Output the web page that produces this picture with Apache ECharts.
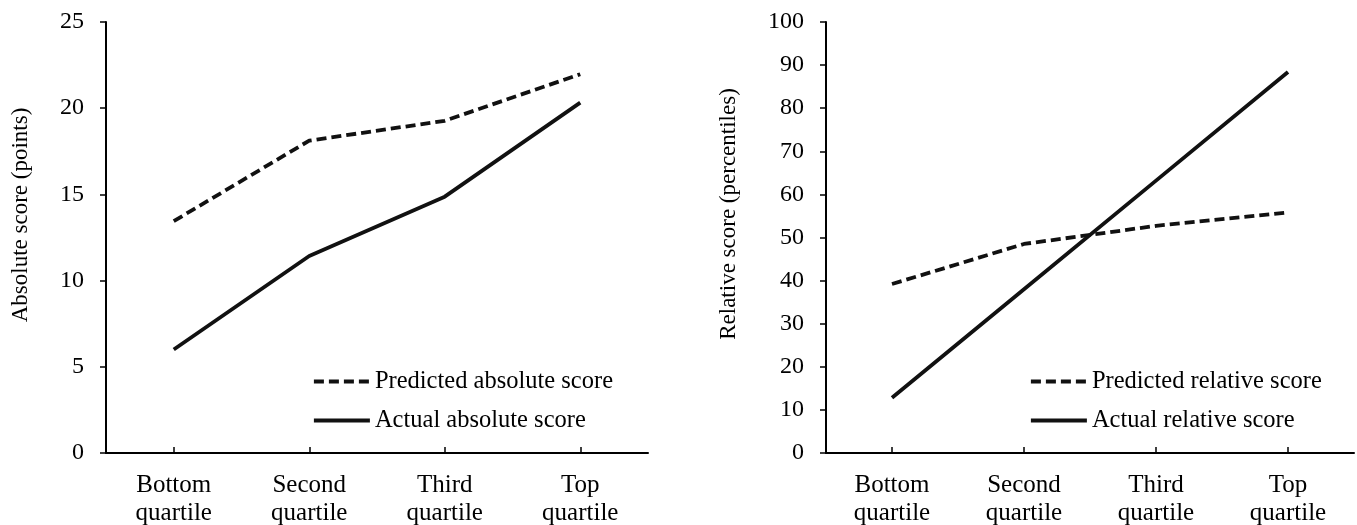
<!DOCTYPE html>
<html>
<head>
<meta charset="utf-8">
<script src="https://cdn.jsdelivr.net/npm/echarts@6/dist/echarts.min.js"></script>
<style>html,body{margin:0;padding:0;background:#fff}#c{width:1357px;height:525px}</style>
</head>
<body>
<div id="c"></div>
<script>
var categories = ['Bottom\nquartile', 'Second\nquartile', 'Third\nquartile', 'Top\nquartile'];
var predictedAbsolute = [13.45, 18.12, 19.27, 21.97];
var actualAbsolute = [6.0, 11.43, 14.87, 20.32];
var predictedRelative = [39.2, 48.5, 52.7, 55.8];
var actualRelative = [12.8, 38.0, 63.2, 88.4];
var leftTicks = {min: 0, max: 25, interval: 5};
var rightTicks = {min: 0, max: 100, interval: 10};

var FONT = 'Liberation Serif';
var INK = '#111';
var chart = echarts.init(document.getElementById('c'), null, {renderer: 'canvas'});

function xAxis(gi) {
  return {
    type: 'category', gridIndex: gi, data: categories, boundaryGap: true,
    axisLine: {lineStyle: {color: '#000', width: 2}},
    axisTick: {show: true, inside: true, length: 6, alignWithLabel: true, lineStyle: {color: '#000', width: 1.5}},
    axisLabel: {fontFamily: FONT, fontSize: 25, color: '#000', lineHeight: 28, margin: 18, interval: 0}
  };
}
function yAxis(gi, t) {
  return {
    type: 'value', gridIndex: gi, min: t.min, max: t.max, interval: t.interval,
    splitLine: {show: false},
    axisLine: {show: true, lineStyle: {color: '#000', width: 2}},
    axisTick: {show: true, length: 6, lineStyle: {color: '#000', width: 1.5}},
    axisLabel: {fontFamily: FONT, fontSize: 24, color: '#000', margin: 22}
  };
}
function line(name, data, gi, dashed) {
  return {
    name: name, type: 'line', xAxisIndex: gi, yAxisIndex: gi, data: data,
    symbol: 'none', showSymbol: false, silent: true, animation: false,
    lineStyle: {color: INK, width: 3.8, type: dashed ? [10, 5] : 'solid'},
    itemStyle: {color: INK}
  };
}
function legend(left, names) {
  return {
    orient: 'vertical', left: left, top: 369, padding: 0, data: names,
    itemWidth: 56, itemHeight: 24, itemGap: 14, itemTextGap: 9,
    itemStyle: {opacity: 0},
    lineStyle: {width: 3.8},
    textStyle: {fontFamily: FONT, fontSize: 24.5, color: '#000', lineHeight: 24},
    selectedMode: false
  };
}

chart.setOption({
  animation: false,
  grid: [
    {left: 106, right: 709, top: 22, bottom: 72, containLabel: false, outerBoundsMode: 'none'},
    {left: 826, right: 3, top: 22, bottom: 72, containLabel: false, outerBoundsMode: 'none'}
  ],
  xAxis: [xAxis(0), xAxis(1)],
  yAxis: [yAxis(0, leftTicks), yAxis(1, rightTicks)],
  legend: [
    legend(312, ['Predicted absolute score', 'Actual absolute score']),
    legend(1029, ['Predicted relative score', 'Actual relative score'])
  ],
  graphic: [
    {type: 'text', x: 21, y: 215, rotation: Math.PI / 2,
      style: {text: 'Absolute score (points)', fontFamily: FONT, fontSize: 23, fill: '#000', align: 'center', verticalAlign: 'middle'}},
    {type: 'text', x: 729, y: 214, rotation: Math.PI / 2,
      style: {text: 'Relative score (percentiles)', fontFamily: FONT, fontSize: 23, fill: '#000', align: 'center', verticalAlign: 'middle'}}
  ],
  series: [
    line('Predicted absolute score', predictedAbsolute, 0, true),
    line('Actual absolute score', actualAbsolute, 0, false),
    line('Predicted relative score', predictedRelative, 1, true),
    line('Actual relative score', actualRelative, 1, false)
  ]
});
</script>
</body>
</html>
